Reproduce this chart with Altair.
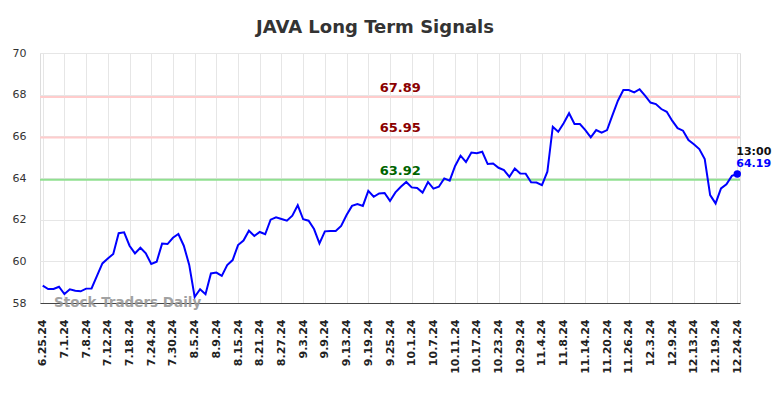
import altair as alt
import pandas as pd

values = [
    58.83, 58.67, 58.67, 58.78, 58.43, 58.66, 58.59, 58.56, 58.69, 58.70,
    59.30, 59.90, 60.14, 60.35, 61.35, 61.39, 60.75, 60.38, 60.65, 60.38,
    59.87, 59.98, 60.85, 60.83, 61.13, 61.31, 60.75, 59.83, 58.29, 58.66,
    58.42, 59.42, 59.46, 59.30, 59.82, 60.06, 60.78, 61.00, 61.47, 61.22,
    61.41, 61.30, 62.00, 62.11, 62.03, 61.95, 62.19, 62.69, 62.02, 61.95,
    61.55, 60.86, 61.44, 61.46, 61.46, 61.70, 62.22, 62.66, 62.75, 62.66,
    63.38, 63.10, 63.26, 63.28, 62.90, 63.31, 63.58, 63.81, 63.55, 63.52,
    63.30, 63.81, 63.49, 63.58, 63.98, 63.87, 64.58, 65.07, 64.77, 65.22,
    65.19, 65.26, 64.67, 64.70, 64.49, 64.38, 64.06, 64.46, 64.22, 64.21,
    63.79, 63.78, 63.66, 64.30, 66.46, 66.22, 66.63, 67.11, 66.59, 66.59,
    66.30, 65.95, 66.30, 66.18, 66.30, 67.02, 67.71, 68.22, 68.22, 68.11,
    68.26, 67.95, 67.62, 67.55, 67.31, 67.18, 66.75, 66.39, 66.27, 65.82,
    65.62, 65.39, 64.91, 63.18, 62.78, 63.50, 63.70, 64.10, 64.19,
]

tick_labels = [
    "6.25.24", "7.1.24", "7.8.24", "7.12.24", "7.18.24", "7.24.24", "7.30.24",
    "8.5.24", "8.9.24", "8.15.24", "8.21.24", "8.27.24", "9.3.24", "9.9.24",
    "9.13.24", "9.19.24", "9.25.24", "10.1.24", "10.7.24", "10.11.24",
    "10.17.24", "10.23.24", "10.29.24", "11.4.24", "11.8.24", "11.14.24",
    "11.20.24", "11.26.24", "12.3.24", "12.9.24", "12.13.24", "12.19.24",
    "12.24.24",
]
tick_step = 4

levels = [67.89, 65.95, 63.92]
level_line_colors = ["#ffcccc", "#ffcccc", "#90e090"]
level_text_colors = ["#8b0000", "#8b0000", "#006400"]
level_label_idx = 65.9

last_time = "13:00"

FONT = "DejaVu Sans"

df = pd.DataFrame({"idx": list(range(len(values))), "v": values})
lv = pd.DataFrame({
    "y": levels,
    "lc": level_line_colors,
    "tc": level_text_colors,
    "lab": [f"{l:.2f}" for l in levels],
    "x": [level_label_idx] * len(levels),
})
last = df.tail(1).copy()
last["lab"] = [f"{values[-1]:.2f}"]
last["t"] = [last_time]

label_arr = "[" + ",".join(f"'{t}'" for t in tick_labels) + "]"
n = len(values)
tick_vals = list(range(0, n, tick_step))

xscale = alt.Scale(domain=[-0.5, n - 0.5], nice=False, zero=False)
yscale = alt.Scale(domain=[58, 70], nice=False, zero=False)

xaxis = alt.Axis(
    values=tick_vals,
    tickCount=len(tick_vals) + 5,
    labelExpr=f"{label_arr}[round(datum.value/{tick_step})]",
    labelAngle=-90,
    labelFont=FONT,
    labelFontWeight="bold",
    labelFontSize=11,
    labelColor="#222222",
    labelPadding=16,
    labelOverlap=False,
    labelBound=False,
    ticks=False,
    grid=True,
    gridColor="#e6e6e6",
    domain=True,
    domainColor="#444444",
    domainWidth=1.2,
    title=None,
)
yaxis = alt.Axis(
    values=list(range(58, 71, 2)),
    labelFont=FONT,
    labelFontSize=11,
    labelColor="#333333",
    labelPadding=14,
    ticks=False,
    grid=True,
    gridColor="#e6e6e6",
    domain=False,
    title=None,
)

base_x = alt.X("idx:Q", scale=xscale, axis=xaxis)

line = alt.Chart(df).mark_line(color="#0000ff", strokeWidth=2).encode(
    x=base_x,
    y=alt.Y("v:Q", scale=yscale, axis=yaxis),
)

rules = alt.Chart(lv).mark_rule(strokeWidth=2).encode(
    y=alt.Y("y:Q", scale=yscale),
    color=alt.Color("lc:N", scale=None),
)

rule_text = alt.Chart(lv).mark_text(
    font=FONT, fontWeight="bold", fontSize=13, align="center", baseline="bottom", dy=-2
).encode(
    x=alt.X("x:Q", scale=xscale),
    y=alt.Y("y:Q", scale=yscale),
    text="lab:N",
    color=alt.Color("tc:N", scale=None),
)

dot = alt.Chart(last).mark_circle(color="#0000ff", size=55, opacity=1).encode(
    x=alt.X("idx:Q", scale=xscale),
    y=alt.Y("v:Q", scale=yscale),
)
val_text = alt.Chart(last).mark_text(
    font=FONT, fontWeight="bold", fontSize=11, align="left", baseline="alphabetic",
    color="#0000ff", dx=-1, dy=-7,
).encode(
    x=alt.X("idx:Q", scale=xscale),
    y=alt.Y("v:Q", scale=yscale),
    text="lab:N",
)
time_text = alt.Chart(last).mark_text(
    font=FONT, fontWeight="bold", fontSize=11, align="left", baseline="alphabetic",
    color="#111111", dx=-1, dy=-19,
).encode(
    x=alt.X("idx:Q", scale=xscale),
    y=alt.Y("v:Q", scale=yscale),
    text="t:N",
)

wm = alt.Chart(pd.DataFrame({"t": ["Stock Traders Daily"]})).mark_text(
    font=FONT, fontWeight="bold", fontSize=13.5, align="left", baseline="alphabetic",
    color="#999999", opacity=0.9,
).encode(
    x=alt.value(14),
    y=alt.value(254),
    text="t:N",
)

chart = alt.layer(rules, rule_text, line, dot, val_text, time_text, wm).properties(
    width=700,
    height=250,
    title=alt.TitleParams(
        "JAVA Long Term Signals", font=FONT, fontSize=18, fontWeight="bold",
        color="#333333", anchor="middle", dx=-15, offset=10,
    ),
    autosize=alt.AutoSizeParams(type="none"),
    padding={"left": 32, "top": 45, "right": 36, "bottom": 87},
).configure_view(stroke=None).configure(background="white")

chart.save("out.html", embed_options={"renderer": "svg", "actions": False})
